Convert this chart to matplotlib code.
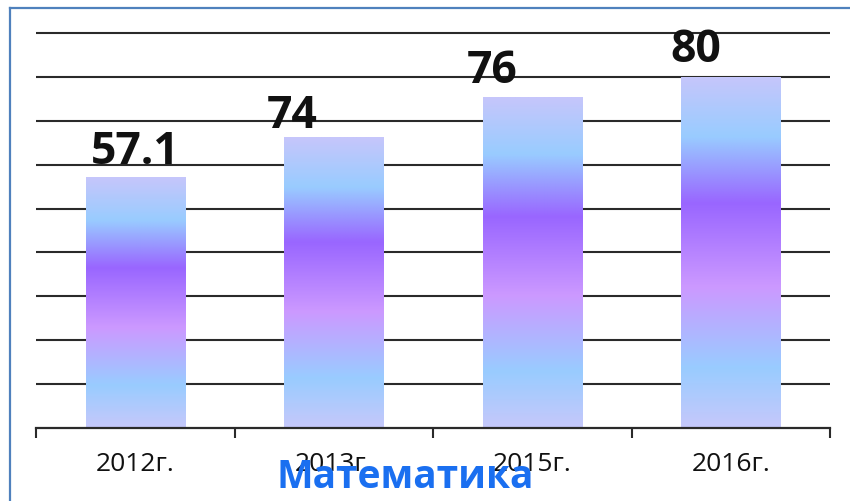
import numpy as np
import matplotlib
matplotlib.use("Agg")
import matplotlib.pyplot as plt
from matplotlib.colors import LinearSegmentedColormap
from matplotlib.lines import Line2D

# ---- data ----
categories = ["2012г.", "2013г.", "2015г.", "2016г."]
bar_values = [57.1, 66.3, 75.4, 80.0]
value_labels = ["57.1", "74", "76", "80"]
title_text = "Математика"

# ---- layout / style ----
label_dx_px = [0, -42, -40, -35]
label_dy_px = [13, 9, 14, 15]
font = "Open Sans"

stops = [
    (0.00, "#c6c6fb"),
    (0.17, "#99ccff"),
    (0.36, "#9966ff"),
    (0.60, "#cc99ff"),
    (0.83, "#99ccff"),
    (1.00, "#c6c8fb"),
]
cmap = LinearSegmentedColormap.from_list("grad", stops)

fig = plt.figure(figsize=(8.5, 5.01), dpi=100)
ax = fig.add_axes([36 / 850, 73 / 501, 794 / 850, (428 - 28.6) / 501])

x = np.arange(len(categories))
bars = ax.bar(x, bar_values, width=0.5, color="none", edgecolor="none", zorder=3)

grad = np.linspace(1, 0, 256).reshape(-1, 1)
for b in bars:
    x0, w, h = b.get_x(), b.get_width(), b.get_height()
    im = ax.imshow(grad, cmap=cmap, extent=(x0, x0 + w, 0, h), aspect="auto",
                   origin="lower", zorder=3, interpolation="bilinear")
    im.set_clip_path(b)

ax.set_xlim(-0.5, len(categories) - 0.5)
ax.set_ylim(0, 91)

# gridlines
ax.set_yticks(np.arange(10, 91, 10))
ax.yaxis.grid(True, color="#2a2a2a", linewidth=1.5, zorder=1)
ax.set_axisbelow(True)
ax.tick_params(axis="y", left=False, labelleft=False)

# x ticks at category boundaries, labels at centers
ax.set_xticks(np.arange(-0.5, len(categories), 1.0))
ax.set_xticklabels([])
ax.tick_params(axis="x", which="major", direction="out", length=7.5, width=1.5, color="#2a2a2a")
ax.set_xticks(x, minor=True)
ax.set_xticklabels(categories, minor=True, fontsize=19, family=font, color="#111111")
ax.tick_params(axis="x", which="minor", length=0, pad=17)

for s in ["left", "right", "top"]:
    ax.spines[s].set_visible(False)
ax.spines["bottom"].set_color("#2a2a2a")
ax.spines["bottom"].set_linewidth(1.6)
ax.spines["bottom"].set_zorder(4)

# value labels
for b, lab, dx, dy in zip(bars, value_labels, label_dx_px, label_dy_px):
    ax.annotate(lab, xy=(b.get_x() + b.get_width() / 2, b.get_height()),
                xytext=(dx, dy), textcoords="offset pixels",
                ha="center", va="baseline", fontsize=32, fontweight="bold",
                family=font, color="#111111", zorder=5)

# title
fig.text(405 / 850, (501 - 488) / 501, title_text, ha="center", va="baseline",
         fontsize=28, fontweight="bold", family=font, color="#1a6ff0")

# frame lines
fig.add_artist(Line2D([10 / 850, 1.0], [1 - 8 / 501, 1 - 8 / 501],
                      transform=fig.transFigure, color="#4f81bd", linewidth=1.6))
fig.add_artist(Line2D([10 / 850, 10 / 850], [0, 1 - 8 / 501],
                      transform=fig.transFigure, color="#4f81bd", linewidth=1.6))

fig.savefig("out.png", dpi=100)
